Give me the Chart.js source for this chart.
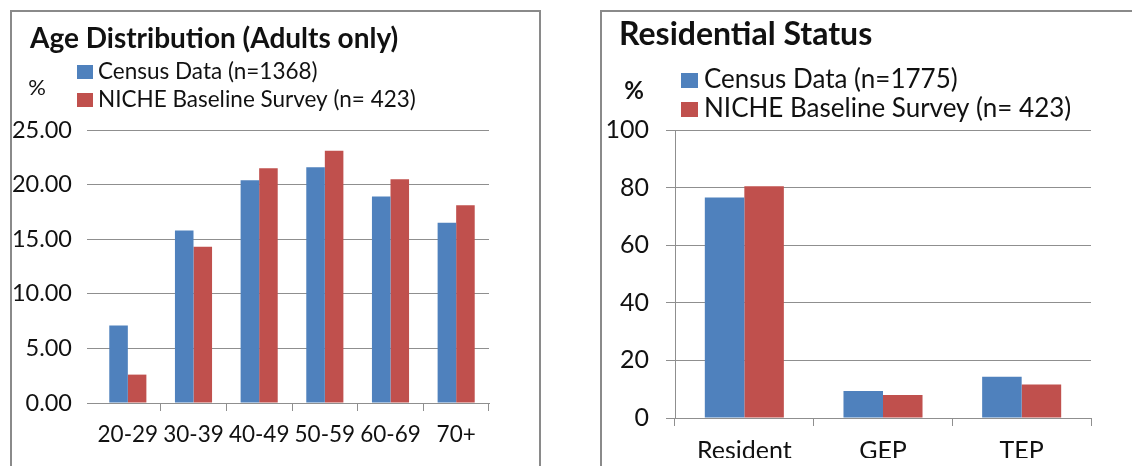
<!DOCTYPE html>
<html>
<head>
<meta charset="utf-8">
<title>Age Distribution and Residential Status</title>
<script src="https://cdn.jsdelivr.net/npm/chart.js@4.4.1/dist/chart.umd.min.js"></script>
<style>
  html, body { margin: 0; padding: 0; background: #ffffff; overflow: hidden; }
  #page { position: relative; width: 1132px; height: 466px; }
  .frame { position: absolute; box-sizing: border-box; border: 2px solid #8a8a8a; background: #ffffff; }
  #frameAge { left: 10px; top: 10px; width: 531px; height: 520px; }
  #frameRes { left: 600px; top: 10px; width: 600px; height: 520px; }
  canvas { position: absolute; top: 0; }
  #ageChart { left: 0; }
  #resChart { left: 580px; }
</style>
</head>
<body>
<div id="page">
  <div class="frame" id="frameAge"></div>
  <div class="frame" id="frameRes"></div>
  <canvas id="ageChart" width="570" height="466"></canvas>
  <canvas id="resChart" width="552" height="466"></canvas>
</div>
<script>
// Age groups (adults only), percent of respondents
const ageGroups = ['20-29', '30-39', '40-49', '50-59', '60-69', '70+'];
const censusAge = [7.1, 15.8, 20.4, 21.6, 18.9, 16.5];
const nicheAge = [2.6, 14.3, 21.5, 23.1, 20.5, 18.1];
const ageTicks = [0, 5, 10, 15, 20, 25];

// Residential status, percent of respondents
const resGroups = ['Resident', 'GEP', 'TEP'];
const censusRes = [76.6, 9.4, 14.3];
const nicheRes = [80.5, 8.0, 11.6];
const resTicks = [0, 20, 40, 60, 80, 100];

const censusAgeLabel = 'Census Data (n=1368)';
const censusResLabel = 'Census Data (n=1775)';
const nicheLabel = 'NICHE Baseline Survey (n= 423)';

const BLUE = '#4F81BD';
const RED = '#C0504D';
const GRID = '#8f8f8f';
const INK = '#111111';
const FONT = 'Lato';

// Title, unit mark and a stacked legend drawn above the plot area
const panelHeader = {
  id: 'panelHeader',
  afterDraw(chart, args, o) {
    const ctx = chart.ctx;
    ctx.save();
    ctx.fillStyle = INK;
    ctx.textAlign = 'left';
    ctx.textBaseline = 'alphabetic';
    ctx.font = o.titleFont;
    ctx.fillText(o.title, o.titleX, o.titleY);

    ctx.font = o.unitFont;
    ctx.textAlign = 'center';
    ctx.textBaseline = 'middle';
    ctx.fillText(o.unit, o.unitX, o.unitY);

    ctx.textAlign = 'left';
    ctx.font = o.legendFont;
    chart.data.datasets.forEach((ds, i) => {
      const cy = o.legendY + i * o.legendGap;
      ctx.fillStyle = ds.backgroundColor;
      ctx.fillRect(o.boxX, Math.round(cy - o.boxH / 2), o.boxW, o.boxH);
      ctx.fillStyle = INK;
      ctx.fillText(ds.label, o.textX, cy);
    });
    ctx.restore();
  }
};

function barChart(canvasId, cfg) {
  return new Chart(document.getElementById(canvasId), {
    type: 'bar',
    data: {
      labels: cfg.labels,
      datasets: [
        { label: cfg.seriesA, data: cfg.valuesA, backgroundColor: BLUE, borderWidth: 0 },
        { label: cfg.seriesB, data: cfg.valuesB, backgroundColor: RED, borderWidth: 0 }
      ]
    },
    options: {
      responsive: false,
      animation: false,
      events: [],
      layout: { padding: cfg.padding },
      datasets: { bar: { categoryPercentage: cfg.catPct, barPercentage: 1.0 } },
      plugins: {
        legend: { display: false },
        title: { display: false },
        tooltip: { enabled: false },
        panelHeader: cfg.header
      },
      scales: {
        x: {
          grid: {
            display: true,
            drawOnChartArea: false,
            drawTicks: true,
            tickLength: 8,
            offset: true,
            color: (c) => (cfg.hideFirstXTick && c.index === 0) ? 'rgba(0,0,0,0)' : GRID,
            lineWidth: 1
          },
          border: { display: true, color: GRID, width: 1 },
          ticks: {
            color: INK,
            font: { family: FONT, size: cfg.xFont },
            padding: cfg.xPad,
            maxRotation: 0,
            minRotation: 0,
            autoSkip: false
          },
          afterFit: (s) => { s.height = 40; }
        },
        y: {
          min: cfg.ticks[0],
          max: cfg.ticks[cfg.ticks.length - 1],
          afterBuildTicks: (s) => { s.ticks = cfg.ticks.map(v => ({ value: v })); },
          grid: { color: GRID, lineWidth: 1, tickLength: cfg.yTickLen, drawTicks: true },
          border: { display: cfg.showYAxis, color: GRID, width: 1 },
          ticks: {
            color: INK,
            font: { family: FONT, size: cfg.yFont },
            padding: cfg.yPad,
            callback: cfg.fmt
          },
          afterFit: (s) => { s.width = 95; }
        }
      }
    },
    plugins: [panelHeader]
  });
}

barChart('ageChart', {
  labels: ageGroups,
  seriesA: censusAgeLabel, valuesA: censusAge,
  seriesB: nicheLabel, valuesB: nicheAge,
  ticks: ageTicks,
  fmt: (v) => Number(v).toFixed(2),
  padding: { left: 0, right: 81, top: 130, bottom: 23 },
  catPct: 0.565,
  hideFirstXTick: true,
  showYAxis: false,
  xFont: 22.5, xPad: 10,
  yFont: 23.5, yPad: 15, yTickLen: 8,
  header: {
    title: 'Age Distribution (Adults only)',
    titleFont: 'bold 28px ' + FONT, titleX: 30, titleY: 48,
    unit: '%', unitFont: '22px ' + FONT, unitX: 37, unitY: 88,
    legendFont: '22.5px ' + FONT, legendY: 72, legendGap: 27.5,
    boxX: 77, boxW: 16, boxH: 14, textX: 98
  }
});

barChart('resChart', {
  labels: resGroups,
  seriesA: censusResLabel, valuesA: censusRes,
  seriesB: nicheLabel, valuesB: nicheRes,
  ticks: resTicks,
  fmt: (v) => String(v),
  padding: { left: 0, right: 41, top: 130, bottom: 8 },
  catPct: 0.57,
  hideFirstXTick: false,
  showYAxis: true,
  xFont: 25, xPad: 10,
  yFont: 25, yPad: 17, yTickLen: 9,
  header: {
    title: 'Residential Status',
    titleFont: 'bold 32px ' + FONT, titleX: 39, titleY: 45,
    unit: '%', unitFont: 'bold 24px ' + FONT, unitX: 54, unitY: 91,
    legendFont: '26px ' + FONT, legendY: 80, legendGap: 29,
    boxX: 101, boxW: 17, boxH: 15, textX: 124
  }
});
</script>
</body>
</html>
